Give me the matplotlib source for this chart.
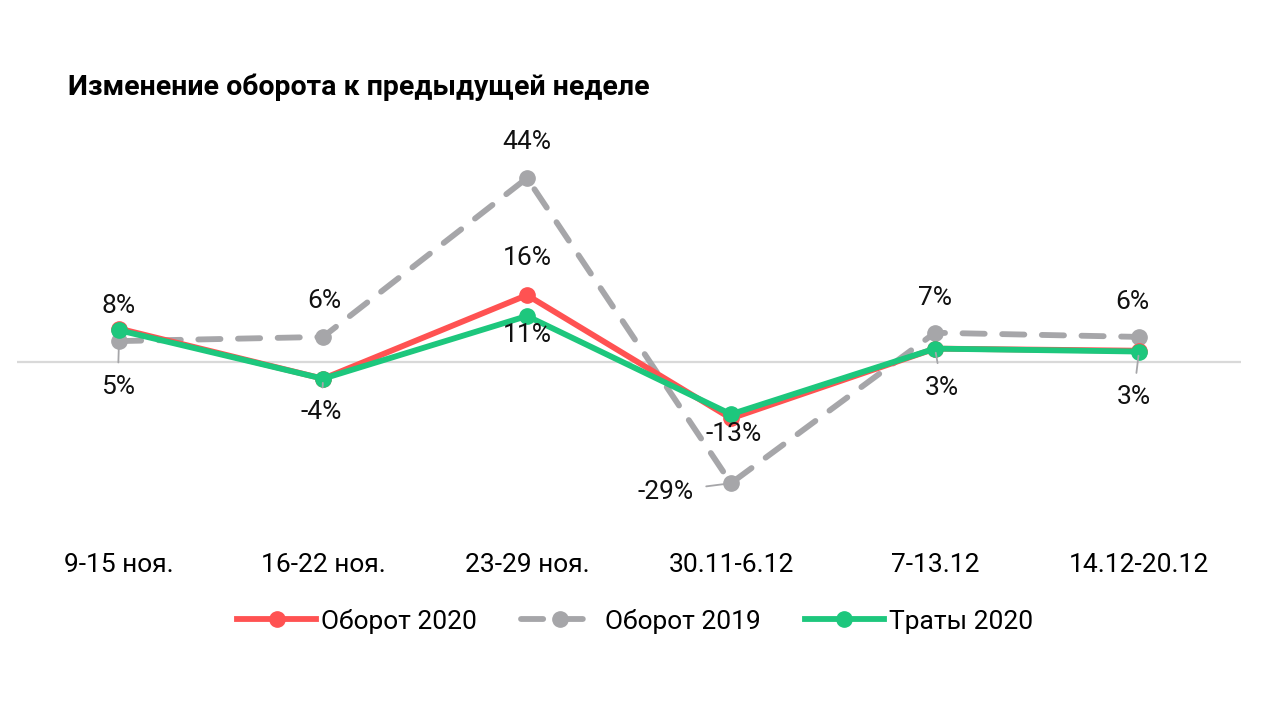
import numpy as np
import matplotlib
matplotlib.use("Agg")
import matplotlib.pyplot as plt

plt.rcParams['font.family'] = ['Roboto', 'DejaVu Sans']

# data
weeks = ["9-15 ноя.", "16-22 ноя.", "23-29 ноя.", "30.11-6.12", "7-13.12", "14.12-20.12"]
turnover_2020 = [8, -4, 16, -13.5, 3.2, 2.7]
turnover_2019 = [5, 6, 44, -29, 7, 6]
spend_2020 = [7.6, -4, 11, -12.5, 3.2, 2.5]

# label text per series (None = not shown)
labels_2020 = ["8%", None, "16%", None, None, None]
labels_2019 = ["5%", "6%", "44%", "-29%", "7%", "6%"]
labels_spend = [None, "-4%", "11%", "-13%", "3%", "3%"]

RED = "#FF5252"
GRAY = "#A6A6A9"
GREEN = "#1DC77D"

fig = plt.figure(figsize=(12.8, 7.2), dpi=100, facecolor="white")
ax = fig.add_axes([17 / 1280, 1 - 520 / 720, 1224 / 1280, 390 / 720])
x = np.arange(len(weeks))

ax.axhline(0, color="#D9D9D9", lw=1.6, zorder=1)
ax.plot(x, turnover_2019, color=GRAY, lw=4.2, dashes=(3.8, 3.0),
        dash_capstyle="round", marker="o", ms=11, label="Оборот 2019", zorder=2)
ax.plot(x, turnover_2020, color=RED, lw=4.2, marker="o", ms=11,
        label="Оборот 2020", zorder=3)
ax.plot(x, spend_2020, color=GREEN, lw=4.2, marker="o", ms=11,
        label="Траты 2020", zorder=4)

ax.set_xlim(-0.5, len(weeks) - 0.5)
ax.set_ylim(-37.8, 55.5)
ax.set_yticks([])
ax.set_xticks(x)
ax.set_xticklabels(weeks, fontsize=19)
ax.tick_params(axis="x", length=0, pad=24)
for s in ax.spines.values():
    s.set_visible(False)

# label offsets in points (dx, dy) and whether a leader line is drawn
offs_2020 = [(0, 16), None, (0, 27), None, None, None]
offs_2019 = [(-1, -33), (1, 26), (0, 26), (-47, -6), (0, 25), (-5, 25)]
offs_spend = [None, (-1, -24), (0, -14), (2, -14), (5, -28), (-4, -33)]
lead_2019 = [True, False, False, True, False, False]
lead_spend = [False, True, False, False, True, True]


def put_labels(vals, texts, offs, leads=None):
    for i, (v, t, o) in enumerate(zip(vals, texts, offs)):
        if t is None:
            continue
        arrow = None
        if leads is not None and leads[i]:
            arrow = dict(arrowstyle="-", color=GRAY, lw=1.3, shrinkA=7, shrinkB=3)
        ax.annotate(t, (i, v), xytext=o, textcoords="offset points",
                    ha="center", va="center", fontsize=19, color="#111111",
                    arrowprops=arrow, zorder=6)


put_labels(turnover_2020, labels_2020, offs_2020)
put_labels(turnover_2019, labels_2019, offs_2019, lead_2019)
put_labels(spend_2020, labels_spend, offs_spend, lead_spend)

handles, lbls = ax.get_legend_handles_labels()
order = [1, 0, 2]
fig.legend([handles[i] for i in order], [lbls[i] for i in order],
           loc="center", bbox_to_anchor=(635 / 1280, 1 - 621 / 720), ncol=3,
           frameon=False, fontsize=19, handlelength=3.0, handletextpad=0.2,
           columnspacing=1.65)

fig.text(68 / 1280, 1 - 87 / 720, "Изменение оборота к предыдущей неделе",
         fontsize=20.5, fontweight="bold", va="center", ha="left")

fig.savefig("out.png", dpi=100, facecolor="white")
